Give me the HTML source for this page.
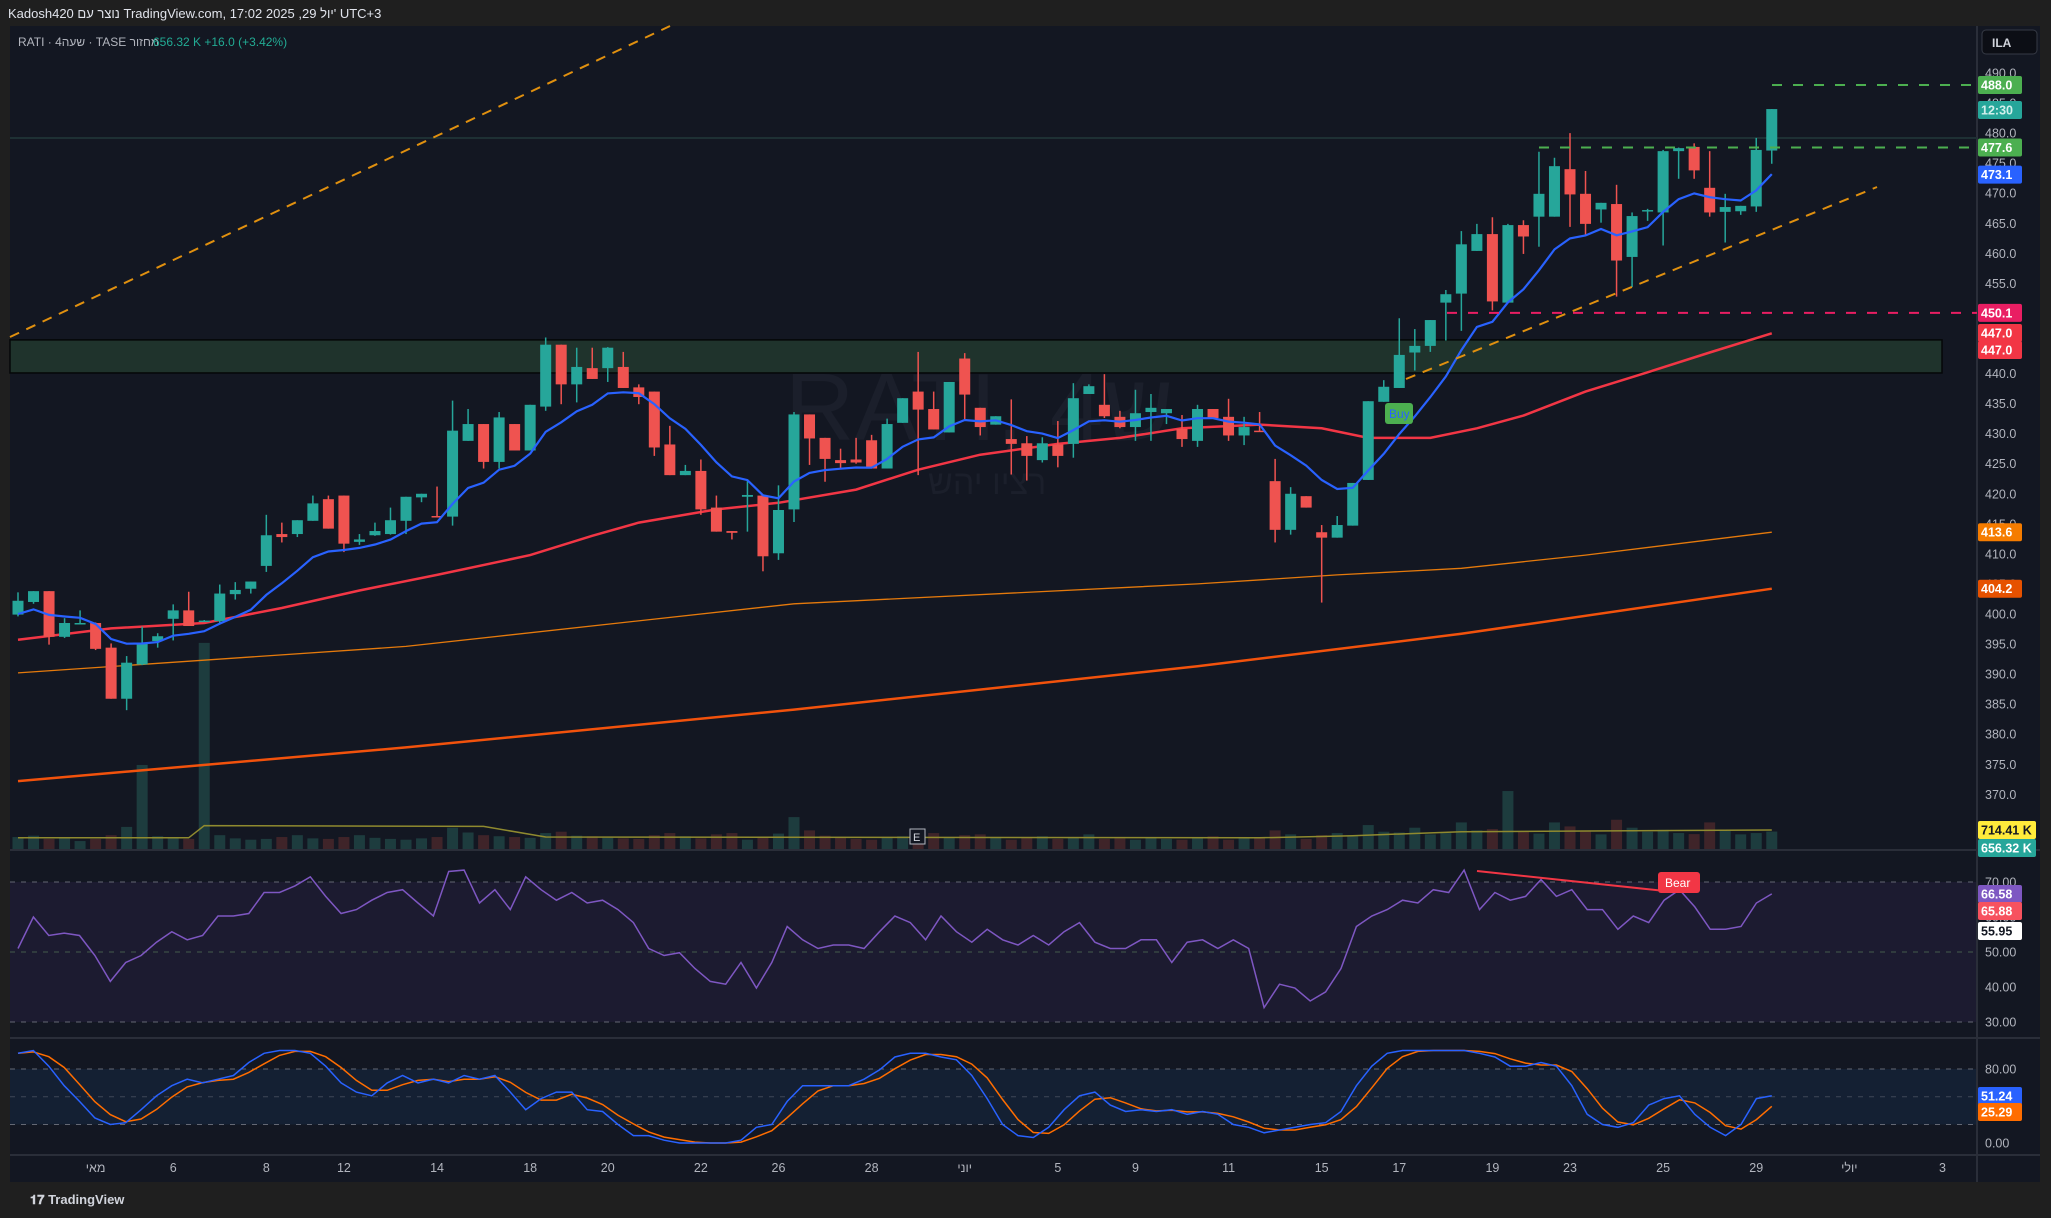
<!DOCTYPE html>
<html><head><meta charset="utf-8"><style>
html,body{margin:0;padding:0;background:#1f1f1f;}
svg{display:block;font-family:"Liberation Sans","Noto Sans CJK JP",sans-serif;}
</style></head><body>
<svg id="chart" width="2051" height="1218" viewBox="0 0 2051 1218" xmlns="http://www.w3.org/2000/svg">
<rect x="0" y="0" width="2051" height="1218" fill="#1f1f1f"/>
<text x="8" y="18" font-size="13" fill="#e0e3eb">Kadosh420 נוצר עם TradingView.com, 17:02 2025 ,29 יול' UTC+3</text>
<rect x="10" y="26" width="2030" height="1156" fill="#131722"/>
<g id="g-bg"></g>
<g id="g-main"></g>
<g id="g-ind"></g>
<g id="g-axis"></g>
<text x="18" y="46" font-size="12" fill="#b2b5be">RATI · 4שעה · TASE  מחזור</text>
<text x="153" y="46" font-size="12" fill="#22ab94">656.32 K  +16.0 (+3.42%)</text>
<rect x="1982" y="30" width="55" height="24" rx="4" fill="#0c0e15" stroke="#363a45"/>
<text x="1992" y="47" font-size="12" fill="#d1d4dc" font-weight="bold">ILA</text>
<text x="30" y="1204" font-size="13" fill="#d1d4dc" font-weight="bold">𝟏𝟕 TradingView</text>
</svg>
<script>
// ---- data ----
const opens=[399.9,402.0,403.8,396.2,398.4,398.5,394.4,385.9,391.6,395.5,399.2,400.6,398.9,398.8,403.3,404.2,408.0,413.3,413.3,415.5,419.1,419.7,412.0,413.1,413.3,415.5,419.4,416.3,416.2,428.8,431.6,425.3,431.6,427.2,434.5,444.8,438.2,440.9,440.9,441.1,437.7,437.0,428.2,423.1,423.8,417.7,413.8,419.5,419.7,410.1,417.4,433.2,429.3,425.6,425.7,428.9,424.2,431.8,437.0,434.1,430.2,442.5,434.3,431.5,429.1,428.4,425.6,428.2,428.3,436.6,434.8,432.8,431.1,433.6,433.4,430.8,428.8,434.1,432.8,429.7,430.5,422.1,414.0,419.6,413.6,412.7,414.7,422.3,435.3,437.6,443.5,444.6,451.8,453.3,460.4,463.2,451.8,464.7,466.1,466.1,474.0,469.9,467.3,468.2,459.4,467.0,466.8,477.0,477.7,470.9,466.9,467.0,467.8,477.1];
const highs=[403.6,403.8,403.8,399.3,400.6,398.6,395.1,393.0,397.9,396.8,401.6,403.7,399.0,404.9,405.3,405.4,416.5,415.2,415.6,419.7,419.7,419.7,413.3,415.2,417.7,419.5,420.0,421.2,435.5,434.1,431.6,433.6,431.6,434.8,446.0,444.8,444.3,444.3,444.4,443.6,438.2,437.0,431.3,424.8,425.7,419.7,413.8,422.2,419.7,421.4,433.6,433.2,429.3,427.5,429.3,429.8,432.5,435.9,443.6,437.0,438.6,443.4,434.3,432.9,435.7,429.6,429.4,432.1,438.4,438.2,439.9,433.8,437.3,436.6,434.1,433.1,434.8,434.1,435.8,432.8,433.6,425.8,421.1,419.6,414.8,416.3,421.8,435.4,438.9,449.2,447.4,448.9,453.9,463.7,464.9,466.0,464.9,465.5,476.9,475.9,480.0,473.7,468.4,471.4,466.8,467.4,477.2,477.6,478.3,477.0,469.9,467.9,479.2,484.0];
const lows=[399.6,401.7,394.9,396.0,398.3,394.0,385.9,384.0,391.5,394.4,395.6,398.0,398.8,398.4,402.4,403.4,407.0,411.9,412.8,415.5,414.2,410.3,411.5,413.0,413.2,413.3,418.6,416.1,414.7,428.8,424.2,424.2,427.2,427.2,433.8,434.9,435.2,439.1,438.6,437.6,434.9,426.3,423.1,423.1,416.5,413.7,412.4,413.7,407.1,409.0,415.3,424.8,422.0,424.2,425.0,424.2,424.2,431.8,423.1,430.7,430.2,432.3,429.7,431.5,423.2,422.2,425.2,424.4,426.0,436.6,432.6,430.9,428.8,428.8,431.6,427.8,427.8,432.6,428.8,428.1,430.4,411.9,413.2,417.7,401.9,412.7,414.7,422.3,435.3,437.6,440.5,443.6,445.5,447.1,460.4,450.5,451.8,459.9,461.1,466.1,464.4,462.9,465.1,452.8,454.4,465.4,461.3,472.4,472.4,466.1,461.8,466.4,466.9,474.9];
const closes=[402.2,403.8,396.2,398.5,398.5,394.2,385.9,391.9,395.2,396.3,400.6,398.0,398.9,403.4,404.0,405.4,413.1,412.8,415.6,418.4,414.2,411.7,412.4,413.8,415.6,419.5,420.0,416.2,430.5,431.6,425.3,432.7,427.2,434.8,444.8,438.2,441.1,439.1,444.3,437.6,436.1,427.7,423.1,423.8,417.4,413.7,413.5,419.8,409.6,417.3,433.2,429.2,425.8,425.1,425.2,424.2,431.6,435.9,434.0,430.7,438.6,436.5,431.1,432.9,428.3,426.3,428.4,426.3,435.9,437.9,432.9,431.1,433.4,434.3,434.1,429.1,434.1,432.6,429.7,431.1,430.4,414.0,420.0,417.7,412.7,414.8,421.8,435.4,437.8,443.1,444.6,448.9,453.2,461.5,463.2,452.0,464.7,462.8,469.9,474.5,469.8,464.9,468.4,458.8,466.2,467.2,477.0,477.5,473.8,466.8,467.7,467.9,477.2,484.0];
const volumesK=[450,500,380,420,300,380,520,830,3160,480,420,380,7750,520,400,350,380,450,520,400,380,450,520,420,380,350,400,450,800,620,520,480,450,420,600,650,500,480,420,400,380,520,600,480,400,550,600,350,450,580,1200,700,500,450,380,350,420,480,520,600,450,520,550,420,350,420,480,380,420,550,380,400,350,420,380,350,420,480,350,400,420,700,550,380,520,600,480,900,650,620,800,550,600,1000,700,750,2180,650,580,1000,850,700,550,1100,800,650,720,600,560,1000,680,550,600,656];
const volMaIdx=[0,11,12,30,34,80,86,93,113];
const volMaVal=[420,420,880,850,450,420,500,650,714];
const ma50Idx=[0,6,12,17,22,27,33,37,40,45,49,54,58,62,67,71,75,80,84,87,91,94,97,101,105,109,113];
const ma50Val=[395.7,397.6,398.5,401,403.9,406.5,409.8,413,415.2,417.4,418.5,420.7,424,426.5,428.3,429.3,430.9,431.5,430.9,429.3,429.3,430.9,433,437,440.2,443.5,446.7];
const ma200Idx=[0,25,50,76,85,93,101,113];
const ma200Val=[390.2,394.6,401.7,405,406.5,407.6,409.8,413.6];
const maLongIdx=[0,25,50,76,93,113];
const maLongVal=[372.2,377.8,384.1,391.3,396.7,404.2];
const rsiVals=[51,60,54.7,55.4,54.7,49,41.6,47,49,52.8,55.8,53.5,54.7,60.3,60.3,61,67,67,68.9,71.5,65.9,61,62.1,64.8,67,67.8,64,60.3,73,73.4,64,67.8,62.1,71.5,67.8,64.8,67,64,64.8,62.1,58.4,51,49,49.8,45.3,41.6,40.8,47,39.7,47,57.3,53.5,51,52,52,51,55.8,60.3,58.4,53.5,60.3,55.8,52.8,56.5,53.5,52,54.7,52,55.8,58.4,52.8,51,51,53.5,53.5,47,52.8,53.5,51,53.5,51,34.1,40.8,39.7,36,38.6,45.3,57.3,60.3,62.1,64.8,64,67.8,67,73.4,62.1,67,64.8,65.9,70.7,65.9,67.8,62.1,62.1,56.5,60.3,58.4,64.8,67.8,62.9,56.5,56.5,57.3,64,66.6];
const stochK=[97,100,83,62,45,27,20,22,36,51,62,69,65,69,73,87,97,100,100,97,83,65,55,51,65,73,65,69,65,73,69,73,55,36,48,55,55,36,34,20,8,8,3,0,0,0,0,3,17,20,45,62,62,62,62,69,79,93,97,97,93,90,73,48,20,8,6,17,36,51,55,41,34,36,34,36,31,34,31,20,17,11,14,17,20,22,34,62,83,97,100,100,100,100,100,97,93,83,83,87,83,62,31,20,17,22,41,48,51,31,17,8,20,48,51];
const priceTicks=[490,485,480,475,470,465,460,455,450,445,440,435,430,425,420,415,410,405,400,395,390,385,380,375,370];
const rsiTicks=[70,60,50,40,30];
const stochTicks=[80,40,0];
const timeIdx=[5,10,16,21,27,33,38,44,49,55,61,67,72,78,84,89,95,100,106,112,118,124];
const timeLabels=['מאי','6','8','12','14','18','20','22','26','28','יוני','5','9','11','15','17','19','23','25','29','יולי','3'];

// ---- scales ----
const NS='http://www.w3.org/2000/svg';
const X0=18, DX=15.52, AXIS_X=1977;
const xI=i=>X0+i*DX;
const yP=p=>73+(490-p)*6.011;
const yV=v=>849-v/37.6;
const yR=v=>882+(70-v)*3.5;
const yS=v=>1143-v*0.925;
const xFrac=(i,n)=>X0+i*(xI(closes.length-1)-X0)/(n-1);
function el(tag,attrs,parent){const e=document.createElementNS(NS,tag);for(const k in attrs)e.setAttribute(k,attrs[k]);parent.appendChild(e);return e;}
const gBg=document.getElementById('g-bg'),gM=document.getElementById('g-main'),gI=document.getElementById('g-ind'),gA=document.getElementById('g-axis');
function knotPath(idx,val,yf){return idx.map((k,j)=>(j?'L':'M')+xI(k).toFixed(1)+' '+yf(val[j]).toFixed(1)).join(' ');}

let e;
e=el('rect',{x:10,y:yR(70),width:AXIS_X-10,height:yR(30)-yR(70),fill:'#1c1b30'},gBg);


e=el('rect',{x:10,y:yS(80),width:AXIS_X-10,height:yS(20)-yS(80),fill:'#142033'},gBg);


[[yR(70),'#787b86'],[yR(50),'#4f6b55'],[yR(30),'#787b86'],[yS(80),'#787b86'],[yS(50),'#4a5160'],[yS(20),'#787b86']].forEach(([y,c])=>{
  const l=el('line',{x1:10,x2:AXIS_X,y1:y,y2:y,stroke:c,'stroke-dasharray':'5 6','stroke-width':1,opacity:0.8},gBg);
  
  
});
[850,1038,1155].forEach(y=>{
  const l=el('line',{x1:10,x2:2040,y1:y,y2:y,stroke:'#2a2e39','stroke-width':2},gBg);
  
  
});
e=el('line',{x1:AXIS_X,x2:AXIS_X,y1:26,y2:1182,stroke:'#2a2e39','stroke-width':2},gBg);


e=el('line',{x1:10,x2:AXIS_X,y1:138,y2:138,stroke:'#1e3034','stroke-width':2},gBg);



e=el('text',{x:785,y:440,'font-size':96,fill:'#1b1f2b'},gBg);e.textContent='RATI, 4ש';


e=el('text',{x:928,y:494,'font-size':34,fill:'#1b1f2b'},gBg);e.textContent='רציו יהש';



e=el('rect',{x:10,y:yP(445.6),width:1932,height:yP(440.1)-yP(445.6),fill:'#1f332c',stroke:'#050708','stroke-width':1.5},gM);



volumesK.forEach((v,i)=>{
  const up=closes[i]>=opens[i];
  const r=el('rect',{x:xI(i)-5.5,y:yV(v),width:11,height:849-yV(v),fill:up?'#1d3c3e':'#3f2429'},gM);
  
  
});
e=el('path',{d:knotPath(volMaIdx,volMaVal,yV),fill:'none',stroke:'#8f8a2f','stroke-width':1.5},gM);



e=el('path',{d:knotPath(maLongIdx,maLongVal,yP),fill:'none',stroke:'#f2520c','stroke-width':2.5},gM);


e=el('path',{d:knotPath(ma200Idx,ma200Val,yP),fill:'none',stroke:'#e57a0c','stroke-width':1.3},gM);


e=el('path',{d:knotPath(ma50Idx,ma50Val,yP),fill:'none',stroke:'#f23645','stroke-width':2.5},gM);



closes.forEach((c,i)=>{
  const o=opens[i],up=c>=o,col=up?'#26a69a':'#ef5350',x=xI(i);
  const w=el('line',{x1:x,x2:x,y1:yP(highs[i]),y2:yP(lows[i]),stroke:col,'stroke-width':1.5},gM);
  
  
  const top=yP(Math.max(o,c)),h=Math.max(1.5,Math.abs(yP(o)-yP(c)));
  const b=el('rect',{x:x-5.5,y:top,width:11,height:h,fill:col},gM);
  
  
});

let ema=400,pts=[];const k=2/(9+1);
closes.forEach((c,i)=>{ema=i===0?400:c*k+ema*(1-k);pts.push((i?'L':'M')+xI(i).toFixed(1)+' '+yP(ema).toFixed(1));});
e=el('path',{d:pts.join(' '),fill:'none',stroke:'#2962ff','stroke-width':2.2},gM);



e=el('line',{x1:10,y1:337,x2:670,y2:26,stroke:'#e0900f','stroke-width':2,'stroke-dasharray':'10 8'},gM);


e=el('line',{x1:1406,y1:379,x2:1877,y2:187,stroke:'#e0900f','stroke-width':2,'stroke-dasharray':'10 8'},gM);


[[488.0,1772,'#4caf50','resistance-level-488'],[477.6,1539,'#4caf50','resistance-level-477'],[450.1,1447,'#e91e63','level-450']].forEach(([p,x1,c,n])=>{
  const l=el('line',{x1:x1,x2:AXIS_X,y1:yP(p),y2:yP(p),stroke:c,'stroke-width':2,'stroke-dasharray':'10 11'},gM);
  
  
});

e=el('rect',{x:1385,y:403,width:28,height:21,rx:3,fill:'#4caf50'},gM);


e=el('text',{x:1389,y:418,'font-size':12,fill:'#2962ff'},gM);e.textContent='Buy';


e=el('rect',{x:910,y:829,width:15,height:15,fill:'#131722',stroke:'#b2b5be','stroke-width':1},gM);


e=el('text',{x:913,y:841,'font-size':11,fill:'#d1d4dc'},gM);e.textContent='E';



e=el('path',{d:rsiVals.map((v,i)=>(i?'L':'M')+xFrac(i,rsiVals.length).toFixed(1)+' '+yR(v).toFixed(1)).join(' '),fill:'none',stroke:'#7e57c2','stroke-width':1.5},gI);


e=el('line',{x1:1477,y1:871,x2:1674,y2:892,stroke:'#f23645','stroke-width':2},gI);


e=el('rect',{x:1658,y:872,width:42,height:21,rx:3,fill:'#f23645'},gI);


e=el('text',{x:1665,y:887,'font-size':12,fill:'#ffffff'},gI);e.textContent='Bear';



const stochD=stochK.map((v,i)=>{const a=stochK.slice(Math.max(0,i-2),i+1);return a.reduce((s,x)=>s+x,0)/a.length;});
e=el('path',{d:stochD.map((v,i)=>(i?'L':'M')+xFrac(i,stochD.length).toFixed(1)+' '+yS(v).toFixed(1)).join(' '),fill:'none',stroke:'#ff6d00','stroke-width':1.5},gI);


e=el('path',{d:stochK.map((v,i)=>(i?'L':'M')+xFrac(i,stochK.length).toFixed(1)+' '+yS(v).toFixed(1)).join(' '),fill:'none',stroke:'#2962ff','stroke-width':1.5},gI);



priceTicks.forEach(p=>{
  const t=el('text',{x:1985,y:yP(p)+4.5,'font-size':12.5,fill:'#b2b5be'},gA);t.textContent=p.toFixed(1);
  
  
});
rsiTicks.forEach(v=>{
  const t=el('text',{x:1985,y:yR(v)+4.5,'font-size':12.5,fill:'#b2b5be'},gA);t.textContent=v.toFixed(2);
  
  
});
stochTicks.forEach(v=>{
  const t=el('text',{x:1985,y:yS(v)+4.5,'font-size':12.5,fill:'#b2b5be'},gA);t.textContent=v.toFixed(2);
  
  
});
timeIdx.forEach((ix,j)=>{
  const t=el('text',{x:xI(ix),y:1172,'font-size':12.5,fill:'#b2b5be','text-anchor':'middle'},gA);t.textContent=timeLabels[j];
  
  
});

[[yP(488.0),'488.0','#4caf50','#fff'],[110,'12:30','#26a69a','#d1f0ec'],[yP(477.6),'477.6','#4caf50','#fff'],[yP(473.1),'473.1','#2962ff','#fff'],
 [yP(450.1),'450.1','#e91e63','#fff'],[333,'447.0','#f23645','#fff'],[350,'447.0','#f23645','#fff'],[yP(413.6),'413.6','#f57c00','#fff'],[yP(404.2),'404.2','#e65100','#fff'],
 [830,'714.41 K','#ffeb3b','#131722'],[848,'656.32 K','#26a69a','#fff'],
 [894,'66.58','#7e57c2','#fff'],[911,'65.88','#f7525f','#fff'],[931,'55.95','#ffffff','#131722'],
 [1096,'51.24','#2962ff','#fff'],[1112,'25.29','#ff6d00','#fff']].forEach(([y,txt,bg,fg])=>{
  const w=txt.length>6?58:44;
  const r=el('rect',{x:1978,y:y-9,width:w,height:18,rx:2,fill:bg},gA);
  
  
  const t=el('text',{x:1981,y:y+4.5,'font-size':12.5,fill:fg,'font-weight':'bold'},gA);t.textContent=txt;
  
  
});
</script>
</body></html>
